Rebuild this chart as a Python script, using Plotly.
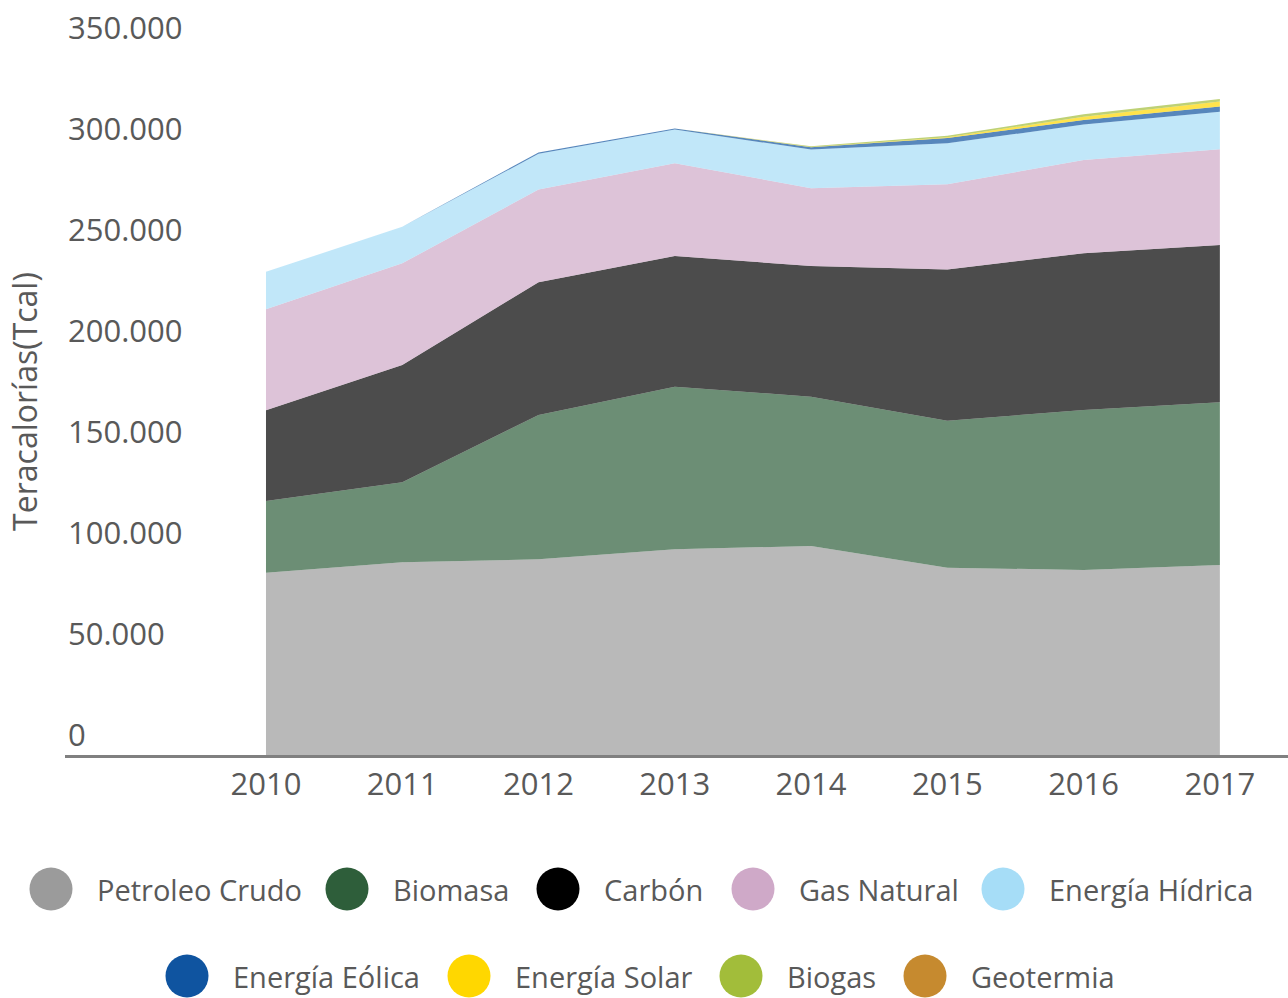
import plotly.graph_objects as go

# ---------------- data ----------------
years = [2010, 2011, 2012, 2013, 2014, 2015, 2016, 2017]
year_labels = ["2010", "2011", "2012", "2013", "2014", "2015", "2016", "2017"]

petroleo = [90200, 95400, 96900, 101800, 103500, 92700, 91600, 94100]
biomasa = [35600, 39600, 71400, 80500, 73900, 72800, 79200, 80500]
carbon = [44900, 58100, 65700, 64700, 64700, 74900, 77600, 77900]
gas_natural = [50000, 50300, 46000, 45900, 38500, 42100, 46200, 47400]
hidrica = [18500, 18100, 17600, 16800, 19100, 20300, 17500, 18600]
eolica = [0, 0, 700, 500, 1200, 2600, 2300, 2500]
solar = [0, 0, 0, 0, 100, 400, 1600, 2500]
biogas = [0, 0, 0, 0, 300, 700, 1200, 1200]
geotermia = [0, 0, 0, 0, 0, 0, 0, 0]

series_names = ["Petroleo Crudo", "Biomasa", "Carbón", "Gas Natural", "Energía Hídrica",
                "Energía Eólica", "Energía Solar", "Biogas", "Geotermia"]
series_values = [petroleo, biomasa, carbon, gas_natural, hidrica, eolica, solar, biogas, geotermia]
series_colors = ["#9B9B9B", "#2E5E3A", "#000000", "#CFA9C8", "#A6DDF7",
                 "#0F54A0", "#FFD700", "#A2BD3A", "#C68A2F"]

y_tickvals = [0, 50000, 100000, 150000, 200000, 250000, 300000, 350000]
y_ticktext = ["0", "50.000", "100.000", "150.000", "200.000", "250.000", "300.000", "350.000"]

# ---------------- styling ----------------
W, H = 1288, 998
ML, MR, MT, MB = 65, 0, 48, 243
PW, PH = W - ML - MR, H - MT - MB
FONT = "Open Sans"
TXT = "#595959"


def rgba(hex_color, a):
    h = hex_color.lstrip("#")
    r, g, b = int(h[0:2], 16), int(h[2:4], 16), int(h[4:6], 16)
    return f"rgba({r},{g},{b},{a})"


fig = go.Figure()
for name, vals, col in zip(series_names, series_values, series_colors):
    fig.add_trace(go.Scatter(
        x=years, y=vals, name=name, stackgroup="one", mode="none",
        fillcolor=rgba(col, 0.7), showlegend=False, hoverinfo="x+y+name",
    ))

# ---------------- custom legend (large circles) ----------------
row1_centers = [51, 347, 558, 753, 1003]
row2_centers = [187, 469, 741, 925]
row_y = [889, 976]
centers = [(x, row_y[0]) for x in row1_centers] + [(x, row_y[1]) for x in row2_centers]
R = 21.5

shapes = []
annotations = []
for (cx, cy), name, col in zip(centers, series_names, series_colors):
    px = (cx - ML) / PW
    py = (H - MB - cy) / PH
    shapes.append(dict(
        type="circle", xref="paper", yref="paper", xsizemode="pixel", ysizemode="pixel",
        xanchor=px, yanchor=py, x0=-R, x1=R, y0=-R, y1=R,
        fillcolor=col, line=dict(width=0),
    ))
    annotations.append(dict(
        text=name, xref="paper", yref="paper", x=(cx + 44 - ML) / PW, y=py,
        xanchor="left", yanchor="middle", showarrow=False,
        font=dict(family=FONT, size=29, color=TXT),
    ))

fig.update_layout(
    width=W, height=H,
    margin=dict(l=ML, r=MR, t=MT, b=MB, pad=0),
    paper_bgcolor="white", plot_bgcolor="white",
    font=dict(family=FONT, size=30, color=TXT),
    showlegend=False,
    shapes=shapes,
    annotations=annotations,
    xaxis=dict(
        range=[2008.525, 2017.5], tickvals=years, ticktext=year_labels,
        showgrid=False, zeroline=False, showline=True, linecolor="#808080", linewidth=3,
        ticks="", tickfont=dict(family=FONT, size=31, color=TXT), fixedrange=True,
    ),
    yaxis=dict(
        range=[0, 350000], tickvals=y_tickvals, ticktext=y_ticktext,
        showgrid=False, zeroline=False, showline=False, ticks="",
        ticklabelposition="inside", ticklabelshift=-20, ticklabelstandoff=0,
        ticklabeloverflow="allow",
        tickfont=dict(family=FONT, size=31, color=TXT),
        title=dict(text="Teracalorías(Tcal)", font=dict(family=FONT, size=32, color=TXT), standoff=20),
        fixedrange=True,
    ),
)

fig.write_html(
    "out.html",
    config={"displayModeBar": False},
    post_script="document.body.style.margin='0';document.body.style.overflow='hidden';",
)
